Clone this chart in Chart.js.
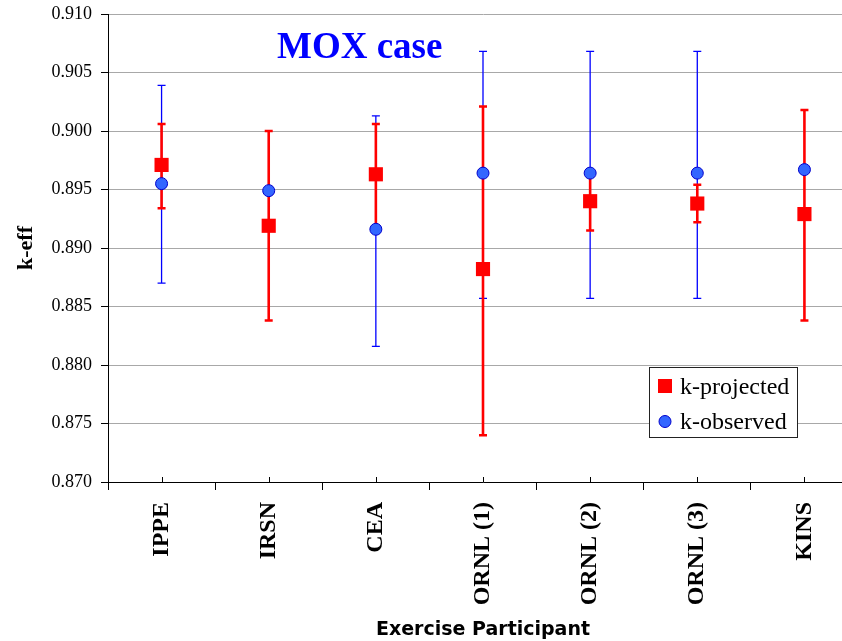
<!DOCTYPE html>
<html>
<head>
<meta charset="utf-8">
<script src="https://cdn.jsdelivr.net/npm/chart.js@4/dist/chart.umd.min.js"></script>
<style>
  html, body { margin: 0; padding: 0; background: #fff; overflow: hidden; }
  #wrap { width: 842px; height: 641px; overflow: hidden; }
</style>
</head>
<body>
<div id="wrap"><canvas id="chart" width="870" height="641"></canvas></div>
<script>
// participants on the x axis
const categories = ["IPPE", "IRSN", "CEA", "ORNL (1)", "ORNL (2)", "ORNL (3)", "KINS"];

// k-projected with its uncertainty band
const kProjected = [0.8971, 0.8919, 0.8963, 0.8882, 0.8940, 0.8938, 0.8929];
const projLow    = [0.8934, 0.8838, 0.8918, 0.8740, 0.8915, 0.8922, 0.8838];
const projHigh   = [0.9006, 0.9000, 0.9006, 0.9021, 0.8964, 0.8954, 0.9018];

// k-observed with its uncertainty band (none shown for IRSN / KINS)
const kObserved = [0.8955, 0.8949, 0.8916, 0.8964, 0.8964, 0.8964, 0.8967];
const obsLow    = [0.8870, null, 0.8816, 0.8857, 0.8857, 0.8857, null];
const obsHigh   = [0.9039, null, 0.9013, 0.9068, 0.9068, 0.9068, null];

const yMin = 0.870, yMax = 0.910, yStep = 0.005;

const SERIF = "'Liberation Serif', 'Times New Roman', serif";

// error bars go under the markers
const errorBars = {
    id: "errorBars",
    beforeDatasetsDraw(chart) {
        const ctx = chart.ctx;
        const x = chart.scales.x, y = chart.scales.y;
        const draw = (lo, hi, color, width, cap) => {
            ctx.save();
            ctx.strokeStyle = color;
            ctx.lineWidth = width;
            for (let i = 0; i < categories.length; i++) {
                if (lo[i] == null || hi[i] == null) continue;
                const px = x.getPixelForValue(i);
                const y1 = y.getPixelForValue(lo[i]);
                const y2 = y.getPixelForValue(hi[i]);
                ctx.beginPath();
                ctx.moveTo(px, y1); ctx.lineTo(px, y2);
                ctx.moveTo(px - cap, y1); ctx.lineTo(px + cap, y1);
                ctx.moveTo(px - cap, y2); ctx.lineTo(px + cap, y2);
                ctx.stroke();
            }
            ctx.restore();
        };
        draw(obsLow, obsHigh, "#0000ff", 1.3, 4);
        draw(projLow, projHigh, "#ff0000", 2.6, 4);
    },
};

// title inside the plot, small centre ticks on x axis, boxed legend
const decorations = {
    id: "decorations",
    afterDraw(chart) {
        const ctx = chart.ctx;
        const x = chart.scales.x;
        const bottom = chart.chartArea.bottom;
        ctx.save();
        ctx.strokeStyle = "#000";
        ctx.lineWidth = 1;
        for (let i = 0; i < categories.length; i++) {
            const px = Math.round(x.getPixelForValue(i)) + 0.5;
            ctx.beginPath();
            ctx.moveTo(px, bottom);
            ctx.lineTo(px, bottom - 5);
            ctx.stroke();
        }

        ctx.fillStyle = "#0000ff";
        ctx.font = "bold 37px " + SERIF;
        ctx.textBaseline = "alphabetic";
        ctx.fillText("MOX case", 277, 58);

        // legend
        ctx.fillStyle = "#fff";
        ctx.fillRect(649, 367, 148, 70);
        ctx.strokeStyle = "#222";
        ctx.strokeRect(649.5, 367.5, 148, 70);
        ctx.fillStyle = "#ff0000";
        ctx.fillRect(658, 379, 14, 14);
        ctx.beginPath();
        ctx.arc(665, 421.5, 6, 0, Math.PI * 2);
        ctx.fillStyle = "#3366ff";
        ctx.fill();
        ctx.strokeStyle = "#0000cc";
        ctx.stroke();
        ctx.fillStyle = "#000";
        ctx.font = "24px " + SERIF;
        ctx.fillText("k-projected", 680, 394);
        ctx.fillText("k-observed", 680, 429);
        ctx.restore();
    },
};

new Chart(document.getElementById("chart"), {
    type: "line",
    data: {
        labels: categories,
        datasets: [
            {
                label: "k-projected",
                data: kProjected,
                showLine: false,
                pointStyle: "rect",
                pointRadius: 10,
                pointBackgroundColor: "#ff0000",
                pointBorderColor: "#ff0000",
                pointBorderWidth: 0,
            },
            {
                label: "k-observed",
                data: kObserved,
                showLine: false,
                pointStyle: "circle",
                pointRadius: 6,
                pointBackgroundColor: "#3366ff",
                pointBorderColor: "#0000cc",
                pointBorderWidth: 1,
            },
        ],
    },
    options: {
        responsive: false,
        animation: false,
        layout: { padding: { top: 14, right: 12, left: 0, bottom: 0 } },
        plugins: {
            legend: { display: false },
            tooltip: { enabled: false },
        },
        scales: {
            x: {
                offset: true,
                grid: {
                    offset: true,
                    drawOnChartArea: false,
                    tickLength: 8,
                    tickColor: "#000",
                },
                border: { color: "#000", width: 1 },
                ticks: {
                    minRotation: 90,
                    maxRotation: 90,
                    padding: 12,
                    color: "#000",
                    font: { family: SERIF, size: 24, weight: "bold" },
                },
                title: {
                    display: true,
                    text: "Exercise Participant",
                    color: "#000",
                    font: { family: "'DejaVu Sans', sans-serif", size: 19, weight: "bold" },
                    padding: { top: 0, bottom: 0 },
                },
                afterFit(scale) { scale.height = 159; },
            },
            y: {
                min: yMin,
                max: yMax,
                grid: {
                    color: "#a8a8a8",
                    tickColor: "#000",
                    tickLength: 7,
                    lineWidth: 1,
                },
                border: { color: "#000", width: 1 },
                ticks: {
                    stepSize: yStep,
                    padding: 9,
                    color: "#000",
                    font: { family: SERIF, size: 18, lineHeight: 0.5 },
                    callback: (v) => v.toFixed(3),
                },
                title: {
                    display: true,
                    text: "k-eff",
                    color: "#000",
                    font: { family: SERIF, size: 22, weight: "bold" },
                    padding: { top: 13, bottom: 0 },
                },
                afterFit(scale) { scale.width = 108; },
            },
        },
    },
    plugins: [errorBars, decorations],
});
</script>
</body>
</html>
